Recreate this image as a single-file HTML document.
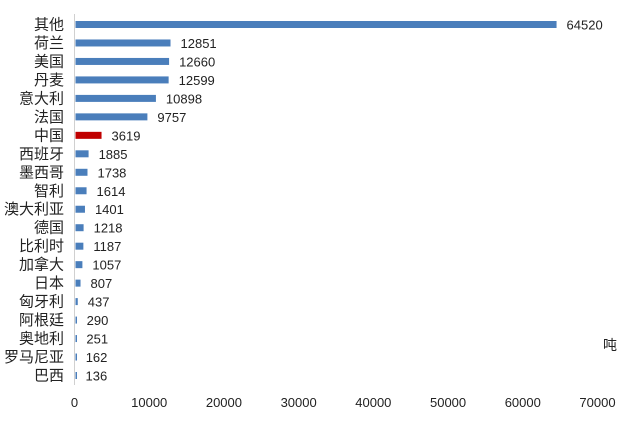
<!DOCTYPE html>
<html><head><meta charset="utf-8"><style>
body{margin:0;background:#fff;}
svg text{font-family:"Liberation Sans","Noto Sans CJK SC",sans-serif;fill:#222;}
</style></head><body>
<svg id="c" width="640" height="427" xmlns="http://www.w3.org/2000/svg">
<rect width="640" height="427" fill="#fff"/>
<line x1="74.5" y1="14" x2="74.5" y2="385" stroke="#d0d0d0"/>
<text x="603" y="350" font-size="14">吨</text>
</svg>
<script>
const categories=["其他","荷兰","美国","丹麦","意大利","法国","中国","西班牙","墨西哥","智利","澳大利亚","德国","比利时","加拿大","日本","匈牙利","阿根廷","奥地利","罗马尼亚","巴西"];
const values=[64520,12851,12660,12599,10898,9757,3619,1885,1738,1614,1401,1218,1187,1057,807,437,290,251,162,136];
const ticks=[0,10000,20000,30000,40000,50000,60000,70000];
const svg=document.getElementById('c');
const NS="http://www.w3.org/2000/svg";
const x0=74.5,xmax=70000,xw=523;
const xs=v=>x0+v/xmax*xw;
const y0=24.5,step=(375.5-24.5)/(categories.length-1);
const ys=i=>y0+i*step;
function mk(t,a){const e=document.createElementNS(NS,t);for(const k in a)e.setAttribute(k,a[k]);svg.appendChild(e);return e;}
categories.forEach((c,i)=>{
  const y=ys(i);
  const b=mk('rect',{x:xs(0)+1,y:y-3.5,width:Math.max(1.5,xs(values[i])-xs(0)-1),height:7,fill:c==="中国"?"#c00000":"#4a7ebb"});
  
  
  const l=mk('text',{x:64,y:y+5,'font-size':15,'text-anchor':'end'});
  l.textContent=c;
  
  
  const v=mk('text',{x:xs(values[i])+10,y:y+5,'font-size':13});
  v.textContent=values[i];
  
  
});
ticks.forEach(t=>{
  const e=mk('text',{x:xs(t),y:407,'font-size':13,'text-anchor':'middle'});
  e.textContent=t;
  
  
});
</script>
</body></html>
